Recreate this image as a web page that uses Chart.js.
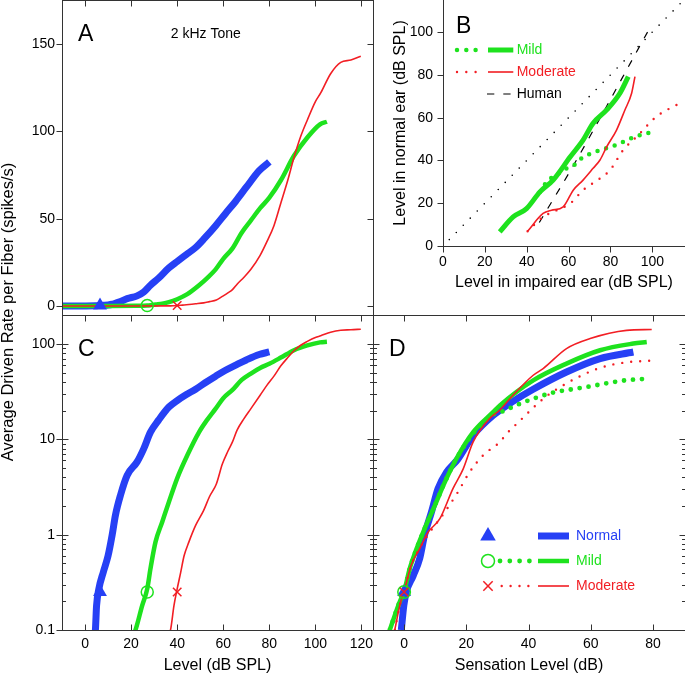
<!DOCTYPE html>
<html>
<head>
<meta charset="utf-8">
<script src="https://cdn.jsdelivr.net/npm/chart.js@4.4.0/dist/chart.umd.min.js"></script>
<style>
    html, body { margin: 0; padding: 0; background: #fff; }
    #fig { position: relative; width: 685px; height: 675px; overflow: hidden; }
    #fig canvas { position: absolute; }
    #ytitle {
        position: absolute; left: -192px; top: 302px; width: 400px; height: 20px;
        line-height: 20px; text-align: center; transform: rotate(-90deg);
        font: 16.5px "Liberation Sans", Arial, sans-serif; color: #000; white-space: nowrap;
    }
</style>
</head>
<body>
<div id="fig">
    <canvas id="panelA" width="380" height="316" style="left:0px;top:0px"></canvas>
    <canvas id="panelB" width="305" height="300" style="left:380px;top:0px"></canvas>
    <canvas id="panelC" width="380" height="365" style="left:0px;top:310px"></canvas>
    <canvas id="panelD" width="319" height="365" style="left:366px;top:310px"></canvas>
    <div id="ytitle">Average Driven Rate per Fiber (spikes/s)</div>
</div>
<script>
// tick values
const levelTicks = [0, 20, 40, 60, 80, 100, 120];
const rateTicksLin = [0, 50, 100, 150];
const rateTicksLog = [0.1, 1, 10, 100];
const slTicks = [0, 20, 40, 60, 80];
const matchTicks = [0, 20, 40, 60, 80, 100];

// rate-level functions (panels A and C), level in dB SPL, rate in spikes/s
const levelNormal = [-10, 0, 4.5, 5, 6, 8, 10, 11.8, 13.2, 15.4, 18.3, 22.6, 25.5, 28.4, 32, 36.4, 40, 44, 48, 52, 56.7, 61, 65.4, 70, 75.6, 80];
const rateNormal = [0.005, 0.02, 0.1, 0.18, 0.27, 0.41, 0.6, 1.0, 1.6, 2.6, 4.2, 5.8, 8, 11.9, 16, 21.8, 25.5, 29.5, 33.5, 39, 46, 53, 60, 68, 77.5, 82.5];
const levelMild = [-10, 10, 21.9, 24.8, 27, 28.4, 30.6, 33.5, 36.4, 40, 44.4, 49.5, 53, 56.7, 60, 64, 68, 72, 76, 80, 85, 90.7, 96.5, 102, 105];
const rateMild = [0.005, 0.02, 0.1, 0.18, 0.27, 0.44, 0.84, 1.36, 2.2, 3.9, 6.8, 11.9, 16, 21, 27, 33, 42, 49, 56, 62, 72, 86, 96.5, 104, 105.5];
const levelModerate = [-10, 20, 37.1, 38.6, 40, 41.5, 43, 45.1, 48, 51.5, 54, 57, 59.6, 62, 64, 66, 69, 72, 76, 79, 82, 85, 88, 90.7, 93.6, 96.5, 100, 102.3, 106.6, 111, 115.4, 119.7];
const rateModerate = [0.005, 0.02, 0.1, 0.18, 0.27, 0.4, 0.6, 0.84, 1.25, 1.8, 2.5, 3.4, 5.5, 7.5, 9.4, 12.5, 16.5, 21, 29, 37, 46, 59, 72, 85, 97, 106.5, 117, 122, 133, 139.5, 140.8, 143];

// thresholds (markers)
const thresholdLevel = [6.5, 27, 40]; // Normal, Mild, Moderate
const thresholdRate = 0.25;
const thresholdSL = 0;

// panel D, sensation level in dB
const slNormal = [-0.9, -0.1, 0.7, 2.9, 5, 6.6, 8.8, 10.9, 13.6, 17.3, 22.2, 28.6, 35, 41.5, 52.2, 63, 73.7];
const rateNormalSL = [0.1, 0.18, 0.25, 0.37, 0.56, 1.0, 1.73, 3.04, 4.5, 6.2, 11, 17.8, 25, 33.5, 50.8, 70.3, 82.4];
const slMild = [-4.6, -1.9, 0.2, 1.8, 4, 6.6, 9.9, 13.1, 16.8, 22.2, 28.6, 30.8, 41.5, 52.2, 63, 73.7, 78];
const rateMildSL = [0.1, 0.18, 0.27, 0.44, 0.71, 1.16, 2.03, 3.56, 6.26, 11.9, 19.3, 22.7, 41.5, 62.3, 86, 101, 105];
const slModerate = [-3, -1.4, 0.2, 2.3, 5, 7.7, 11.5, 15.7, 19, 22.2, 27.5, 30.8, 35, 41.5, 44.7, 52.2, 59.8, 71.5, 79.6];
const rateModerateSL = [0.1, 0.18, 0.27, 0.48, 0.71, 1.06, 1.47, 3.04, 4.9, 9.4, 16.5, 20.3, 29, 47, 55.2, 89.5, 114, 139, 142];
const slMildDotted = [-4.6, -1.9, 0.2, 1.8, 4, 6.6, 9.9, 13.1, 16.8, 22.2, 26, 28, 31.4, 36.7, 42, 48, 54, 60, 65, 71, 77];
const rateMildDotted = [0.1, 0.18, 0.27, 0.44, 0.71, 1.16, 2.03, 3.56, 6.26, 11.5, 15.5, 17.8, 19.5, 23.2, 27, 31, 33.5, 36, 38.7, 41.5, 43];
const slModDotted = [-3, -1.4, 0.2, 2.3, 5, 7.7, 13.1, 17.3, 21, 25.4, 30.8, 33, 37, 41.2, 45.8, 50.6, 56, 61.4, 67, 72.8, 78.8];
const rateModDotted = [0.1, 0.18, 0.27, 0.48, 0.72, 1.0, 1.73, 2.8, 4.5, 6.8, 9.4, 11.5, 15.4, 21, 28.4, 36, 45, 53.8, 60.8, 64.9, 66.8];

// panel B, loudness-matching level: impaired ear (x) vs normal ear (y)
const impMild = [27.1, 33.5, 39.9, 46.3, 52.6, 60.8, 66.9, 71.7, 78.2, 84.5, 88.5];
const normMild = [6.6, 13.6, 17.5, 25.3, 30.8, 41.7, 49.5, 57.4, 63.6, 71.4, 79.2];
const impMildDotted = [46.3, 49.6, 55.1, 59, 63, 66.2, 74.2, 82.6, 90.9, 99.7];
const normMildDotted = [25.3, 30, 33.9, 36.3, 38.1, 41, 44.5, 47.2, 50.8, 53.2];
const impModerate = [40.4, 47.8, 51.8, 57.4, 62.2, 66.9, 71.7, 75, 78.2, 82.9, 86.9, 90.1, 91.7];
const normModerate = [6.9, 15.2, 16.7, 18.3, 26.1, 30.8, 36.3, 40.2, 46.4, 54.2, 63.6, 71.4, 79.2];
const impModDotted = [40.4, 47.8, 54.3, 60.8, 66.9, 75, 79.8, 86.1, 92.5, 102, 113.2];
const normModDotted = [6.9, 13.6, 16.7, 19.9, 26.1, 31.6, 35.5, 44.9, 51.1, 60.5, 66.8];
const impHuman = [46, 62.2, 97.7];
const normHuman = [11, 37.5, 100];
const impUnity = [3, 115];
const normUnity = [3, 115];

const BLUE = 'rgb(38, 64, 245)';
const GREEN = 'rgb(30, 226, 30)';
const RED = 'rgb(242, 30, 36)';
const FONT = '"Liberation Sans", Arial, Helvetica, sans-serif';

Chart.defaults.font.family = FONT;
Chart.defaults.font.size = 14;
Chart.defaults.color = '#000';

function line(xs, ys, color, width, dash) {
    return {
        data: xs.map((x, i) => ({ x: x, y: ys[i] })),
        showLine: true,
        borderColor: color,
        borderWidth: width,
        borderDash: dash || [],
        borderCapStyle: dash && dash[0] === 0 ? 'round' : 'butt',
        borderJoinStyle: 'round',
        cubicInterpolationMode: 'monotone',
        pointRadius: 0,
        fill: false,
        clip: 0
    };
}

function marker(x, y, style, color, r) {
    const solid = style === 'triangle';
    return {
        data: [{ x: x, y: y }],
        showLine: false,
        pointStyle: style,
        pointRadius: r,
        pointBackgroundColor: solid ? color : 'rgba(0,0,0,0)',
        pointBorderColor: color,
        pointBorderWidth: solid ? 0 : 1.5
    };
}

const fixTicks = values => scale => { scale.ticks = values.map(v => ({ value: v })); };
// fixed axis size, and no extra room for overhanging labels
const fixWidth = w => s => { s.width = w; s.paddingTop = s.paddingBottom = s.paddingLeft = s.paddingRight = 0; };
const fixHeight = h => s => { s.height = h; s.paddingTop = s.paddingBottom = s.paddingLeft = s.paddingRight = 0; };
const noGrid = { display: false, drawTicks: false };

// frame lines and tick marks (in / out / both) drawn from the chart scales
const frameTicks = {
    id: 'frameTicks',
    afterDraw(chart, args, o) {
        const { ctx, chartArea: a } = chart;
        const xs = chart.scales.x, ys = chart.scales.y;
        const px = v => Math.round(v) + 0.5;
        const L = px(a.left), R = px(a.right), T = px(a.top), B = px(a.bottom);
        ctx.save();
        ctx.strokeStyle = '#333';
        ctx.lineWidth = 1;
        ctx.beginPath();
        const seg = (x0, y0, x1, y1) => { ctx.moveTo(x0, y0); ctx.lineTo(x1, y1); };
        if (o.sides.left) seg(L, T - 0.5, L, B + 0.5);
        if (o.sides.right) seg(R, T - 0.5, R, B + 0.5);
        if (o.sides.top) seg(L - 0.5, T, R + 0.5, T);
        if (o.sides.bottom) seg(L - 0.5, B, R + 0.5, B);

        const vTick = (p, base, mode, sign, len) => {
            if (mode === 'in' || mode === 'both') seg(p, base, p, base + sign * len);
            if (mode === 'out' || mode === 'both') seg(p, base, p, base - sign * len);
        };
        const hTick = (p, base, mode, sign, len) => {
            if (mode === 'in' || mode === 'both') seg(base, p, base + sign * len, p);
            if (mode === 'out' || mode === 'both') seg(base, p, base - sign * len, p);
        };
        o.x.values.forEach(v => {
            const p = px(xs.getPixelForValue(v));
            if (o.x.top) vTick(p, T, o.x.top, 1, 6);
            if (o.x.bottom) vTick(p, B, o.x.bottom, -1, 6);
        });
        o.y.values.forEach(v => {
            const p = px(ys.getPixelForValue(v));
            if (o.y.left) hTick(p, L, o.y.left, 1, 6);
            if (o.y.right) hTick(p, R, o.y.right, -1, 6);
            if (o.y.minor) {
                for (let k = 2; k <= 9; k++) {
                    const m = k * v;
                    if (m >= ys.max) break;
                    const q = px(ys.getPixelForValue(m));
                    if (o.y.left) hTick(q, L, 'in', 1, 3.5);
                    if (o.y.right) hTick(q, R, 'in', -1, 3.5);
                }
            }
        });
        ctx.stroke();
        ctx.restore();
    }
};

// panel letters, captions and hand-made legends
const panelText = {
    id: 'panelText',
    afterDraw(chart, args, o) {
        const { ctx, chartArea: a } = chart;
        ctx.save();
        ctx.textBaseline = 'middle';
        ctx.textAlign = 'left';
        (o.items || []).forEach(t => {
            ctx.font = t.size + 'px ' + FONT;
            ctx.fillStyle = t.color || '#000';
            ctx.fillText(t.text, a.left + t.dx, a.top + t.dy);
        });
        (o.legend || []).forEach(r => {
            const y = a.top + r.dy;
            if (r.dotted) {
                ctx.beginPath();
                ctx.setLineDash([0, r.dotted.gap]);
                ctx.lineCap = 'round';
                ctx.lineWidth = r.dotted.width;
                ctx.strokeStyle = r.color;
                ctx.moveTo(a.left + r.dotted.from, y);
                ctx.lineTo(a.left + r.dotted.to, y);
                ctx.stroke();
            }
            if (r.solid) {
                ctx.beginPath();
                ctx.setLineDash(r.solid.dash || []);
                ctx.lineCap = 'butt';
                ctx.lineWidth = r.solid.width;
                ctx.strokeStyle = r.color;
                ctx.moveTo(a.left + r.solid.from, y);
                ctx.lineTo(a.left + r.solid.to, y);
                ctx.stroke();
            }
            ctx.setLineDash([]);
            if (r.marker) {
                const mx = a.left + r.marker.dx, s = r.marker.r;
                ctx.beginPath();
                ctx.lineWidth = 1.5;
                ctx.strokeStyle = r.color;
                ctx.fillStyle = r.color;
                if (r.marker.style === 'triangle') {
                    ctx.moveTo(mx, y - s);
                    ctx.lineTo(mx + s * 0.866, y + s / 2);
                    ctx.lineTo(mx - s * 0.866, y + s / 2);
                    ctx.closePath();
                    ctx.fill();
                } else if (r.marker.style === 'circle') {
                    ctx.arc(mx, y, s, 0, Math.PI * 2);
                    ctx.stroke();
                } else {
                    const d = s * 0.707;
                    ctx.moveTo(mx - d, y - d); ctx.lineTo(mx + d, y + d);
                    ctx.moveTo(mx - d, y + d); ctx.lineTo(mx + d, y - d);
                    ctx.stroke();
                }
            }
            ctx.font = '14px ' + FONT;
            ctx.fillStyle = r.color;
            ctx.fillText(r.text, a.left + r.textDx, y);
        });
        ctx.restore();
    }
};

const common = {
    responsive: false,
    animation: false,
    events: []
};

// Panel A: linear rate-level functions
new Chart(document.getElementById('panelA'), {
    type: 'scatter',
    data: {
        datasets: [
            marker(thresholdLevel[2], thresholdRate, 'crossRot', RED, 6),
            marker(thresholdLevel[1], thresholdRate, 'circle', GREEN, 6),
            marker(thresholdLevel[0], thresholdRate, 'triangle', BLUE, 8),
            line(levelModerate, rateModerate, RED, 1.6),
            line(levelMild, rateMild, GREEN, 4.5),
            line(levelNormal, rateNormal, BLUE, 7)
        ]
    },
    options: {
        ...common,
        layout: { autoPadding: false, padding: { top: 0, right: 7, bottom: 1, left: 0 } },
        scales: {
            x: { type: 'linear', display: false, min: -10, max: 125 },
            y: {
                type: 'linear', min: -5.15, max: 175.2,
                afterBuildTicks: fixTicks(rateTicksLin),
                afterFit: fixWidth(62),
                grid: noGrid, border: { display: false },
                ticks: { padding: 7 }
            }
        },
        plugins: {
            legend: { display: false }, tooltip: { enabled: false },
            frameTicks: {
                sides: { top: true, right: true, bottom: false, left: true },
                x: { values: levelTicks, top: 'in' },
                y: { values: rateTicksLin, left: 'out', right: 'in' }
            },
            panelText: {
                items: [
                    { text: 'A', dx: 16, dy: 35, size: 23 },
                    { text: '2 kHz Tone', dx: 108.7, dy: 34, size: 14 }
                ]
            }
        }
    },
    plugins: [frameTicks, panelText]
});

// Panel B: loudness matching
new Chart(document.getElementById('panelB'), {
    type: 'scatter',
    data: {
        datasets: [
            line(impModerate, normModerate, RED, 1.6),
            line(impModDotted, normModDotted, RED, 2.4, [0, 9]),
            line(impMild, normMild, GREEN, 5),
            line(impMildDotted, normMildDotted, GREEN, 4.5, [0, 9]),
            line(impHuman, normHuman, '#000', 1.2, [7.3, 9]),
            line(impUnity, normUnity, '#000', 1.6, [0, 10])
        ]
    },
    options: {
        ...common,
        layout: { autoPadding: false, padding: { top: 0, right: 0, bottom: 0, left: 0 } },
        scales: {
            x: {
                type: 'linear', min: 0, max: 115.6,
                afterBuildTicks: fixTicks(matchTicks),
                afterFit: fixHeight(54),
                grid: noGrid, border: { display: false },
                ticks: { padding: 7.3, maxRotation: 0 },
                title: { display: true, text: 'Level in impaired ear (dB SPL)', font: { size: 16 }, padding: { top: 0, bottom: 7.7 } }
            },
            y: {
                type: 'linear', min: 0, max: 115,
                afterBuildTicks: fixTicks(matchTicks),
                afterFit: fixWidth(63),
                grid: noGrid, border: { display: false },
                ticks: { padding: 10 },
                title: { display: true, text: 'Level in normal ear (dB SPL)', font: { size: 16 }, padding: { top: 10.9, bottom: 0 } }
            }
        },
        plugins: {
            legend: { display: false }, tooltip: { enabled: false },
            frameTicks: {
                sides: { top: false, right: false, bottom: true, left: true },
                x: { values: matchTicks, bottom: 'out' },
                y: { values: matchTicks, left: 'out' }
            },
            panelText: {
                items: [{ text: 'B', dx: 13, dy: 27, size: 23 }],
                legend: [
                    { dy: 50, color: GREEN, text: 'Mild', textDx: 73.7,
                      dotted: { from: 14, to: 34, width: 4.5, gap: 9.3 }, solid: { from: 45, to: 70.3, width: 5 } },
                    { dy: 72, color: RED, text: 'Moderate', textDx: 73.7,
                      dotted: { from: 14, to: 34, width: 2.4, gap: 9.3 }, solid: { from: 45, to: 70.3, width: 1.6 } },
                    { dy: 94, color: '#000', text: 'Human', textDx: 73.7,
                      solid: { from: 44, to: 70, width: 1.2, dash: [7.3, 9] } }
                ]
            }
        }
    },
    plugins: [frameTicks, panelText]
});

// Panel C: log rate-level functions
new Chart(document.getElementById('panelC'), {
    type: 'scatter',
    data: {
        datasets: [
            marker(thresholdLevel[2], thresholdRate, 'crossRot', RED, 6),
            marker(thresholdLevel[1], thresholdRate, 'circle', GREEN, 6),
            marker(thresholdLevel[0], thresholdRate, 'triangle', BLUE, 8),
            line(levelModerate, rateModerate, RED, 1.6),
            line(levelMild, rateMild, GREEN, 4.5),
            line(levelNormal, rateNormal, BLUE, 7)
        ]
    },
    options: {
        ...common,
        layout: { autoPadding: false, padding: { top: 5, right: 7, bottom: 0, left: 0 } },
        scales: {
            x: {
                type: 'linear', min: -10, max: 125,
                afterBuildTicks: fixTicks(levelTicks),
                afterFit: fixHeight(45),
                grid: noGrid, border: { display: false },
                ticks: { padding: 5.5, maxRotation: 0 },
                title: { display: true, text: 'Level (dB SPL)', font: { size: 16 }, padding: { top: 0, bottom: 0 } }
            },
            y: {
                type: 'logarithmic', min: 0.1, max: 201.4,
                afterBuildTicks: fixTicks(rateTicksLog),
                afterFit: fixWidth(62),
                grid: noGrid, border: { display: false },
                ticks: { padding: 7, callback: v => String(v) }
            }
        },
        plugins: {
            legend: { display: false }, tooltip: { enabled: false },
            frameTicks: {
                sides: { top: true, right: true, bottom: true, left: true },
                x: { values: levelTicks, top: 'in', bottom: 'in' },
                y: { values: rateTicksLog, left: 'both', right: 'in', minor: true }
            },
            panelText: { items: [{ text: 'C', dx: 16, dy: 34.5, size: 23 }] }
        }
    },
    plugins: [frameTicks, panelText]
});

// Panel D: rate vs sensation level
new Chart(document.getElementById('panelD'), {
    type: 'scatter',
    data: {
        datasets: [
            marker(thresholdSL, thresholdRate, 'crossRot', RED, 6),
            marker(thresholdSL, thresholdRate, 'circle', GREEN, 6.3),
            marker(thresholdSL, thresholdRate, 'triangle', BLUE, 8),
            line(slModerate, rateModerateSL, RED, 1.6),
            line(slModDotted, rateModDotted, RED, 2.4, [0, 9]),
            line(slMildDotted, rateMildDotted, GREEN, 4.8, [0, 9]),
            line(slMild, rateMildSL, GREEN, 4.5),
            line(slNormal, rateNormalSL, BLUE, 7)
        ]
    },
    options: {
        ...common,
        layout: { autoPadding: false, padding: { top: 5, right: 0, bottom: 0, left: 7 } },
        scales: {
            x: {
                type: 'linear', min: -10, max: 90.3,
                afterBuildTicks: fixTicks(slTicks),
                afterFit: fixHeight(45),
                grid: noGrid, border: { display: false },
                ticks: { padding: 5.5, maxRotation: 0 },
                title: { display: true, text: 'Sensation Level (dB)', font: { size: 16 }, padding: { top: 0, bottom: 0 } }
            },
            y: { type: 'logarithmic', display: false, min: 0.1, max: 201.4 }
        },
        plugins: {
            legend: { display: false }, tooltip: { enabled: false },
            frameTicks: {
                sides: { top: true, right: true, bottom: true, left: true },
                x: { values: slTicks, top: 'in', bottom: 'in' },
                y: { values: rateTicksLog, left: 'in', right: 'in', minor: true }
            },
            panelText: {
                items: [{ text: 'D', dx: 16, dy: 34.5, size: 23 }],
                legend: [
                    { dy: 221, color: BLUE, text: 'Normal', textDx: 203,
                      marker: { style: 'triangle', dx: 115, r: 9 }, solid: { from: 165, to: 196, width: 7 } },
                    { dy: 246, color: GREEN, text: 'Mild', textDx: 203,
                      marker: { style: 'circle', dx: 115, r: 6.5 },
                      dotted: { from: 127, to: 157, width: 4.8, gap: 9.8 }, solid: { from: 165, to: 196, width: 4.5 } },
                    { dy: 271, color: RED, text: 'Moderate', textDx: 203,
                      marker: { style: 'cross', dx: 115, r: 6.6 },
                      dotted: { from: 128.7, to: 156, width: 2.4, gap: 8.9 }, solid: { from: 165, to: 196, width: 1.6 } }
                ]
            }
        }
    },
    plugins: [frameTicks, panelText]
});
</script>
</body>
</html>
